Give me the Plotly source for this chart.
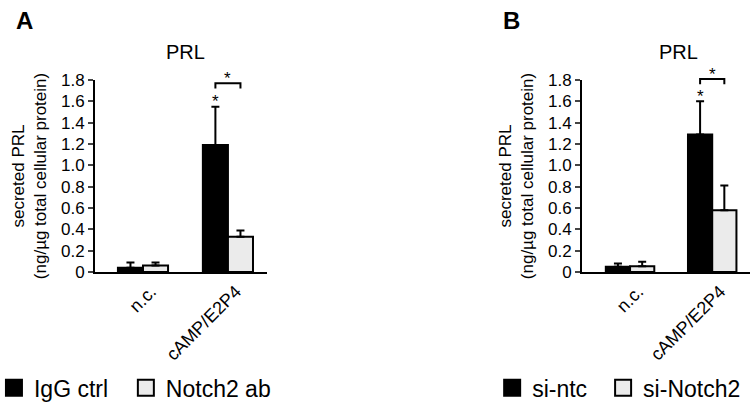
import plotly.graph_objects as go

# ---- data ----
categories = ["n.c.", "cAMP/E2P4"]
y_tickvals = [0, 0.2, 0.4, 0.6, 0.8, 1.0, 1.2, 1.4, 1.6, 1.8]
y_ticktext = ["0", "0.2", "0.4", "0.6", "0.8", "1.0", "1.2", "1.4", "1.6", "1.8"]

# Panel A
a_names = ["IgG ctrl", "Notch2 ab"]
a_igg = [0.04, 1.19]
a_igg_err = [0.05, 0.36]
a_notch = [0.06, 0.33]
a_notch_err = [0.03, 0.06]

# Panel B
b_names = ["si-ntc", "si-Notch2"]
b_ntc = [0.05, 1.29]
b_ntc_err = [0.03, 0.31]
b_notch = [0.055, 0.58]
b_notch_err = [0.04, 0.23]

FONT = "Liberation Sans, Arial, sans-serif"
DARK = "black"
LIGHT = "#ebebeb"
BARGAP = 0.41
YMAX = 1.8

xpos = list(range(len(categories)))
fig = go.Figure()


def add_panel(xa, ya, legend, names, pad, v1, e1, v2, e2):
    for i, (vals, errs, col, nm) in enumerate([(v1, e1, DARK, names[0]), (v2, e2, LIGHT, names[1])]):
        fig.add_trace(go.Bar(
            x=xpos, y=vals, name=nm, marker=dict(color=col, line=dict(color="black", width=2)),
            error_y=dict(type="data", array=errs, arrayminus=[0] * len(errs), symmetric=False,
                         color="black", thickness=2, width=4),
            xaxis=xa, yaxis=ya, showlegend=False))
        fig.add_trace(go.Scatter(
            x=[None], y=[None], mode="markers", name=nm + (pad if i == 0 else ""),
            marker=dict(symbol="square", size=18, color=col, line=dict(color="black", width=2)),
            xaxis=xa, yaxis=ya, legend=legend, showlegend=True))


add_panel("x", "y", "legend", a_names, "\u00a0\u00a0", a_igg, a_igg_err, a_notch, a_notch_err)
add_panel("x2", "y2", "legend2", b_names, "\u00a0\u2009", b_ntc, b_ntc_err, b_notch, b_notch_err)

# significance marks (y given in fractions of the y-axis domain = value / YMAX)
off = (1 - BARGAP) / 4
star_font = dict(family=FONT, size=17, color="black")
for xa, ya, lo, hi in [("x", "y", 1.72, 1.77), ("x2", "y2", 1.76, 1.81)]:
    fig.add_shape(type="path", xref=xa, yref=ya + " domain",
                  path="M %f,%f L %f,%f L %f,%f L %f,%f" % (
                      1 - off, lo / YMAX, 1 - off, hi / YMAX, 1 + off, hi / YMAX, 1 + off, lo / YMAX),
                  line=dict(color="black", width=2))
    fig.add_annotation(x=1, y=(hi + 0.045) / YMAX, xref=xa, yref=ya + " domain", text="*",
                       showarrow=False, yanchor="middle", font=star_font)

for xa, ya, v, e in [("x", "y", a_igg, a_igg_err), ("x2", "y2", b_ntc, b_ntc_err)]:
    fig.add_annotation(x=1 - off, y=(v[1] + e[1] + 0.05) / YMAX, xref=xa, yref=ya + " domain",
                       text="*", showarrow=False, yanchor="middle", font=star_font)

ytitle = "secreted PRL<br>(ng/µg total cellular protein)"
yaxis_common = dict(range=[0, YMAX], tickvals=y_tickvals, ticktext=y_ticktext, ticks="outside",
                    ticklen=5, tickwidth=2, showline=True, linewidth=2, linecolor="black",
                    showgrid=False, zeroline=False, domain=[0.3317, 0.8034],
                    tickfont=dict(family=FONT, size=17, color="black"),
                    title=dict(text=ytitle, standoff=10,
                               font=dict(family=FONT, size=17, color="black")))
xaxis_common = dict(tickvals=xpos, ticktext=categories, tickangle=-45, ticks="",
                    ticklabelshift=8,
                    showline=True, linewidth=2, linecolor="black", showgrid=False,
                    zeroline=False, tickfont=dict(family=FONT, size=18, color="black"))

fig.update_layout(
    width=756, height=407, margin=dict(l=0, r=0, t=0, b=0, autoexpand=False),
    paper_bgcolor="white", plot_bgcolor="white",
    barmode="group", bargap=BARGAP, bargroupgap=0,
    font=dict(family=FONT, color="black"),
    xaxis=dict(xaxis_common, domain=[95 / 756, 267 / 756], range=[-0.565, 1.46], anchor="y"),
    yaxis=dict(yaxis_common, anchor="x"),
    xaxis2=dict(xaxis_common, domain=[582 / 756, 750 / 756], range=[-0.585, 1.46], anchor="y2"),
    yaxis2=dict(yaxis_common, anchor="x2"),
    legend=dict(orientation="h", x=-0.008, xanchor="left", y=0.047, yanchor="middle",
                font=dict(family=FONT, size=23, color="black"), bgcolor="rgba(0,0,0,0)"),
    legend2=dict(orientation="h", x=0.651, xanchor="left", y=0.047, yanchor="middle",
                 font=dict(family=FONT, size=23, color="black"), bgcolor="rgba(0,0,0,0)"),
    showlegend=True,
)

# panel letters and titles
for txt, x in [("A", 14 / 756), ("B", 501 / 756)]:
    fig.add_annotation(x=x, y=1 - 5 / 407, xref="paper", yref="paper", text="<b>%s</b>" % txt,
                       showarrow=False, xanchor="left", yanchor="top",
                       font=dict(family=FONT, size=24, color="black"))
for x in [185 / 756, 678 / 756]:
    fig.add_annotation(x=x, y=1 - 52 / 407, xref="paper", yref="paper", text="PRL",
                       showarrow=False, xanchor="center", yanchor="middle",
                       font=dict(family=FONT, size=20, color="black"))

fig.write_html("out.html", config={"displayModeBar": False},
               post_script="document.body.style.margin='0px';")
